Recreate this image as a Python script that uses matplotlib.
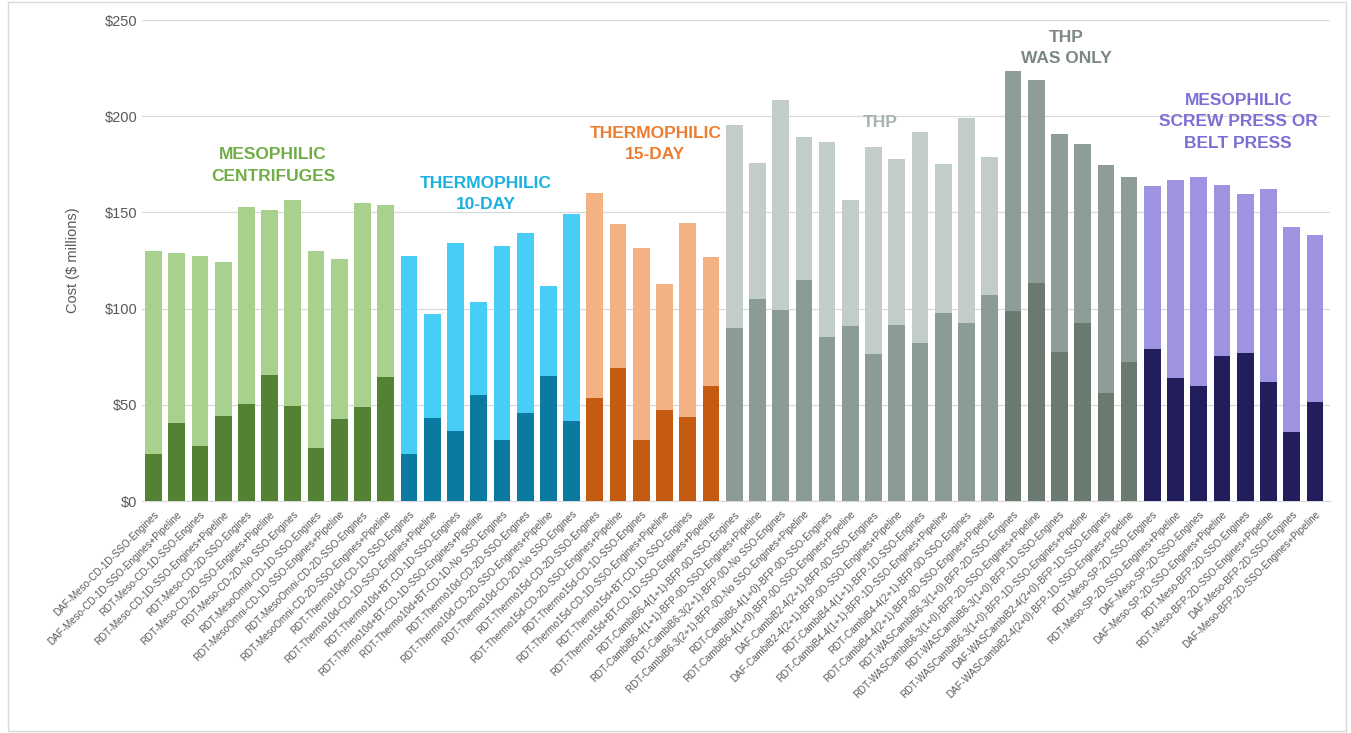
import matplotlib
matplotlib.use("Agg")
import matplotlib.pyplot as plt
from matplotlib.patches import Rectangle

# Scenario names (x categories)
scenarios = [
    "DAF-Meso-CD-1D-SSO-Engines",
    "DAF-Meso-CD-1D-SSO-Engines+Pipeline",
    "RDT-Meso-CD-1D-SSO-Engines",
    "RDT-Meso-CD-1D-SSO-Engines+Pipeline",
    "RDT-Meso-CD-2D-SSO-Engines",
    "RDT-Meso-CD-2D-SSO-Engines+Pipeline",
    "RDT-Meso-CD-2D-No SSO-Engines",
    "RDT-MesoOmni-CD-1D-SSO-Engines",
    "RDT-MesoOmni-CD-1D-SSO-Engines+Pipeline",
    "RDT-MesoOmni-CD-2D-SSO-Engines",
    "RDT-MesoOmni-CD-2D-SSO-Engines+Pipeline",
    "RDT-Thermo10d-CD-1D-SSO-Engines",
    "RDT-Thermo10d-CD-1D-SSO-Engines+Pipeline",
    "RDT-Thermo10d+BT-CD-1D-SSO-Engines",
    "RDT-Thermo10d+BT-CD-1D-SSO-Engines+Pipeline",
    "RDT-Thermo10d+BT-CD-1D-No SSO-Engines",
    "RDT-Thermo10d-CD-2D-SSO-Engines",
    "RDT-Thermo10d-CD-2D-SSO-Engines+Pipeline",
    "RDT-Thermo10d-CD-2D-No SSO-Engines",
    "RDT-Thermo15d-CD-2D-SSO-Engines",
    "RDT-Thermo15d-CD-2D-SSO-Engines+Pipeline",
    "RDT-Thermo15d-CD-1D-SSO-Engines",
    "RDT-Thermo15d-CD-1D-SSO-Engines+Pipeline",
    "RDT-Thermo15d+BT-CD-1D-SSO-Engines",
    "RDT-Thermo15d+BT-CD-1D-SSO-Engines+Pipeline",
    "RDT-CambiB6-4(1+1)-BFP-0D-SSO-Engines",
    "RDT-CambiB6-4(1+1)-BFP-0D-SSO-Engines+Pipeline",
    "RDT-CambiB6-3(2+1)-BFP-0D-No SSO-Engines",
    "RDT-CambiB6-3(2+1)-BFP-0D-No SSO-Engines+Pipeline",
    "RDT-CambiB6-4(1+0)-BFP-0D-SSO-Engines",
    "RDT-CambiB6-4(1+0)-BFP-0D-SSO-Engines+Pipeline",
    "DAF-CambiB2-4(2+1)-BFP-0D-SSO-Engines",
    "DAF-CambiB2-4(2+1)-BFP-0D-SSO-Engines+Pipeline",
    "RDT-CambiB4-4(1+1)-BFP-1D-SSO-Engines",
    "RDT-CambiB4-4(1+1)-BFP-1D-SSO-Engines+Pipeline",
    "RDT-CambiB4-4(2+1)-BFP-0D-SSO-Engines",
    "RDT-CambiB4-4(2+1)-BFP-0D-SSO-Engines+Pipeline",
    "RDT-WASCambiB6-3(1+0)-BFP-2D-SSO-Engines",
    "RDT-WASCambiB6-3(1+0)-BFP-2D-SSO-Engines+Pipeline",
    "RDT-WASCambiB6-3(1+0)-BFP-1D-SSO-Engines",
    "RDT-WASCambiB6-3(1+0)-BFP-1D-SSO-Engines+Pipeline",
    "DAF-WASCambiB2-4(2+0)-BFP-1D-SSO-Engines",
    "DAF-WASCambiB2-4(2+0)-BFP-1D-SSO-Engines+Pipeline",
    "RDT-Meso-SP-2D-SSO-Engines",
    "RDT-Meso-SP-2D-SSO-Engines+Pipeline",
    "DAF-Meso-SP-2D-SSO-Engines",
    "DAF-Meso-SP-2D-SSO-Engines+Pipeline",
    "RDT-Meso-BFP-2D-SSO-Engines",
    "RDT-Meso-BFP-2D-SSO-Engines+Pipeline",
    "DAF-Meso-BFP-2D-SSO-Engines",
    "DAF-Meso-BFP-2D-SSO-Engines+Pipeline",
]

# Lower stacked segment ($ millions)
lower_cost = [
    24.5, 40.5, 28.5, 44, 50.5, 65.5, 49.5, 27.5, 42.5, 49, 64.5,
    24.5, 43, 36.5, 55, 31.5, 46, 65, 41.5,
    53.5, 69, 31.5, 47.5, 43.5, 60,
    90, 105, 99.5, 115, 85, 91, 76.5, 91.5, 82, 97.5, 92.5, 107,
    99, 113.5, 77.5, 92.5, 56, 72,
    79, 64, 60, 75.5, 77, 62, 36, 51.5,
]

# Total cost ($ millions)
total_cost = [
    130, 129, 127.5, 124, 153, 151, 156.5, 130, 126, 155, 154,
    127.5, 97, 134, 103.5, 132.5, 139.5, 112, 149,
    160, 144, 131.5, 113, 144.5, 127,
    195.5, 175.5, 208.5, 189, 186.5, 156.5, 184, 178, 192, 175, 199, 179,
    223.5, 219, 191, 185.5, 174.5, 168.5,
    163.5, 167, 168.5, 164, 159.5, 162, 142.5, 138,
]

# Process groups: (label, count, dark colour, light colour, text colour, label x-centre, label y)
groups = [
    ("MESOPHILIC\nCENTRIFUGES", 11, "#548235", "#a9d18e", "#70ad47", 5.15, 174.5),
    ("THERMOPHILIC\n10-DAY", 8, "#0a7aa0", "#48cdf6", "#1ab0e0", 14.3, 159.5),
    ("THERMOPHILIC\n15-DAY", 6, "#c55a11", "#f4b183", "#ed7d31", 21.6, 185.5),
    ("THP", 12, "#8b9c94", "#c2cdc9", "#a7b4ae", 31.3, 196.5),
    ("THP\nWAS ONLY", 6, "#6a7a70", "#8e9d95", "#7a8880", 39.3, 235.5),
    ("MESOPHILIC\nSCREW PRESS OR\nBELT PRESS", 8, "#221e5c", "#9e93e0", "#7b6fd6", 46.7, 197),
]

plt.rcParams["font.family"] = ["Liberation Sans", "DejaVu Sans"]

fig = plt.figure(figsize=(13.51, 7.33), dpi=100)
ax = fig.add_axes([0.105, 0.3165, 0.8795, 0.6562])

dark_colors, light_colors = [], []
for _, n, dark, light, *_ in groups:
    dark_colors += [dark] * n
    light_colors += [light] * n

x = list(range(len(scenarios)))
upper_cost = [t - b for t, b in zip(total_cost, lower_cost)]
ax.bar(x, lower_cost, width=0.72, color=dark_colors, zorder=3)
ax.bar(x, upper_cost, width=0.72, bottom=lower_cost, color=light_colors, zorder=3)

for label, n, dark, light, tcol, xc, yc in groups:
    ax.text(xc, yc, label, color=tcol, fontsize=12.5, fontweight="bold",
            ha="center", va="center", linespacing=1.55, zorder=4)

ax.set_xlim(-0.5, len(scenarios) - 0.35)
ax.set_ylim(0, 250)
ax.set_yticks(range(0, 251, 50))
ax.set_yticklabels([f"${v}" for v in range(0, 251, 50)], fontsize=10.5, color="#595959")
ax.set_ylabel("Cost ($ millions)", fontsize=10.5, color="#595959", labelpad=18)

ax.set_xticks(x)
ax.set_xticklabels(scenarios, rotation=45, ha="right", rotation_mode="anchor",
                   fontsize=7.1, color="#595959")
ax.tick_params(axis="x", length=0, pad=6)
ax.tick_params(axis="y", length=0, pad=3)

ax.grid(axis="y", color="#d9d9d9", linewidth=0.9, zorder=0)
for side in ["top", "right", "left"]:
    ax.spines[side].set_visible(False)
ax.spines["bottom"].set_color("#d9d9d9")

# chart frame
fig.patches.append(Rectangle((0.006, 0.003), 0.99, 0.994, transform=fig.transFigure,
                             fill=False, edgecolor="#d9d9d9", linewidth=1))

fig.savefig("out.png", dpi=100)
